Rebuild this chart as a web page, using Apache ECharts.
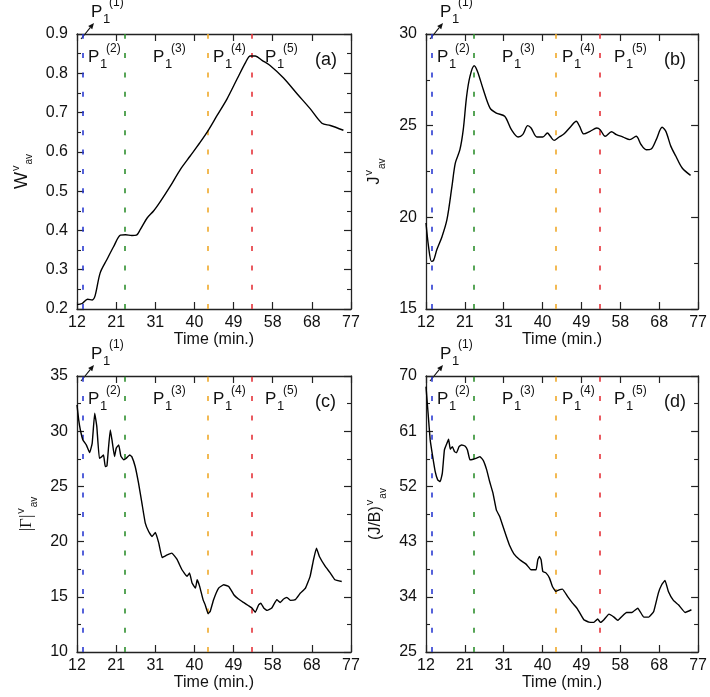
<!DOCTYPE html>
<html><head><meta charset="utf-8">
<script src="https://cdn.jsdelivr.net/npm/echarts@6/dist/echarts.min.js"></script>
<style>html,body{margin:0;padding:0;background:#fff}#c{width:710px;height:697px}</style>
</head><body><div id="c"></div>
<script>
// ---------- data ----------
const xTickLabels = [12, 21, 31, 40, 49, 58, 68, 77];
const phaseTimes = [13.4, 23.4, 43.1, 53.5];
const phaseSup = ['(2)', '(3)', '(4)', '(5)'];
const panelTags = ['(a)', '(b)', '(c)', '(d)'];

const aTime = [12, 13.2, 14.5, 15.6, 16.3, 17.5, 19.1, 20.7, 22.3, 23.5, 25.0, 26.1, 27.0, 28.6, 30.2, 31.8, 34.1, 36.5, 38.9, 41.2, 43.1, 45.2, 47.6, 50, 52, 53.1, 54.3, 55.9, 57.8, 61, 64.2, 67.3, 70.1, 72.1, 75.2];
const aVal  = [0.211, 0.214, 0.225, 0.223, 0.234, 0.292, 0.326, 0.359, 0.388, 0.389, 0.387, 0.388, 0.402, 0.431, 0.45, 0.474, 0.512, 0.555, 0.590, 0.624, 0.654, 0.692, 0.735, 0.786, 0.828, 0.844, 0.844, 0.833, 0.820, 0.788, 0.748, 0.710, 0.673, 0.667, 0.655];

const bTime = [12, 12.6, 13.3, 13.8, 14.6, 15.8, 17, 18.2, 19, 20.1, 20.9, 21.7, 22.5, 23.5, 24.3, 25.7, 27.3, 28.8, 30.8, 32.4, 34, 35.1, 36.3, 37.1, 38.5, 39.9, 41, 41.7, 42.6, 43.8, 45, 46.6, 47.9, 48.7, 49.7, 51.2, 52.8, 53.6, 54.8, 56.3, 57.5, 59.1, 60.7, 62.2, 63.4, 64.6, 65.8, 67, 68.4, 69.3, 70.5, 71.7, 73.2, 75.2];
const bVal  = [19.69, 18.42, 17.6, 17.65, 18.24, 18.93, 19.87, 21.69, 22.96, 23.69, 24.78, 26.6, 27.69, 28.27, 27.96, 26.96, 25.96, 25.69, 25.51, 24.78, 24.38, 24.51, 25.0, 24.87, 24.38, 24.38, 24.6, 24.42, 24.2, 24.38, 24.56, 24.96, 25.24, 24.96, 24.55, 24.69, 24.87, 24.78, 24.42, 24.67, 24.51, 24.38, 24.24, 24.42, 23.96, 23.69, 23.73, 24.24, 24.91, 24.69, 23.87, 23.33, 22.69, 22.29];

const cTime = [12, 12.4, 12.8, 13.4, 14.2, 15, 15.6, 16.2, 16.7, 17.3, 17.9, 18.3, 18.7, 19.1, 19.5, 19.9, 20.3, 20.9, 21.3, 21.9, 22.4, 23.1, 23.7, 24.5, 25.0, 25.8, 26.6, 27.4, 28.2, 29.0, 29.8, 30.6, 31.4, 32.2, 33.4, 34.5, 35.7, 36.9, 38.1, 38.7, 39.3, 40.1, 40.5, 41.1, 41.9, 42.4, 43.1, 43.6, 44.4, 45.6, 46.8, 48.0, 49.2, 50.3, 51.5, 52.7, 53.5, 54.3, 55.1, 55.6, 56.3, 57.1, 58.2, 59.4, 60.2, 61, 61.8, 62.6, 63.8, 65, 66.2, 67.3, 68.1, 68.8, 69.5, 70.9, 72.1, 73.2, 74.8];
const cVal  = [32.38, 31.02, 30.11, 29.21, 28.76, 28.06, 28.9, 31.62, 30.42, 27.55, 27.7, 27.85, 26.8, 26.86, 28.61, 30.11, 29.21, 27.7, 28.46, 28.76, 27.76, 27.4, 27.55, 27.85, 27.7, 26.8, 25.29, 23.48, 21.67, 20.92, 20.46, 20.83, 19.86, 18.56, 18.8, 18.96, 18.41, 17.45, 16.85, 17.15, 16.24, 15.79, 16.54, 15.94, 14.74, 14.28, 13.47, 13.68, 14.74, 15.79, 16.09, 15.94, 15.19, 14.8, 14.49, 14.19, 13.98, 13.59, 14.28, 14.43, 13.98, 13.77, 13.98, 14.74, 14.49, 14.8, 14.95, 14.68, 14.74, 15.34, 15.79, 16.85, 18.35, 19.41, 18.65, 17.75, 17.15, 16.54, 16.39];

const dTime = [12, 12.5, 13.0, 13.6, 14.2, 14.8, 15.4, 15.9, 16.4, 17.0, 17.4, 17.8, 18.3, 18.8, 19.3, 19.9, 20.5, 21.3, 21.9, 22.5, 23.3, 24.1, 24.9, 25.7, 26.5, 27.2, 28.0, 28.8, 29.6, 30.4, 31.2, 32.0, 33.0, 34.4, 35.9, 37.1, 38.3, 38.7, 39.1, 39.5, 39.9, 40.7, 41.5, 42.2, 43.0, 43.8, 44.6, 45.8, 47.0, 48.2, 49.7, 50.9, 52.1, 53.0, 53.7, 54.5, 55.7, 56.9, 57.8, 58.8, 59.9, 61.2, 62.6, 64.0, 65.2, 66.4, 67.5, 68.3, 69.1, 69.9, 71.1, 72.3, 73.9, 75.4];
const dVal  = [68.26, 63.92, 59.58, 56.86, 54.42, 53.06, 52.79, 54.15, 57.95, 59.03, 59.68, 58.06, 58.49, 57.68, 57.51, 58.49, 58.76, 58.6, 57.95, 56.32, 56.43, 56.6, 56.86, 56.21, 54.69, 52.79, 50.89, 48.18, 47.09, 45.46, 43.83, 42.31, 41.01, 40.03, 39.33, 38.4, 38.4, 40.03, 40.58, 40.03, 38.13, 37.86, 37.05, 35.69, 34.87, 35.14, 35.25, 34.06, 32.97, 32.0, 30.26, 29.88, 29.83, 30.37, 29.83, 30.26, 31.18, 30.69, 30.15, 30.8, 31.45, 31.45, 32.15, 30.69, 30.69, 31.61, 34.6, 35.96, 36.67, 34.87, 33.41, 32.7, 31.45, 31.89];

const yRanges = [[0.2, 0.9, 0.1], [15, 30, 5], [10, 35, 5], [25, 70, 9]];

// ---------- style / layout ----------
const FONT = "'Liberation Sans', Arial, Helvetica, sans-serif";
const phaseColors = ['#2b3bd1', '#2f8f2f', '#efa92a', '#e5333a'];
const grids = [
  {left: 77, top: 34, width: 274, height: 275},
  {left: 426, top: 34, width: 274, height: 275},
  {left: 77, top: 376, width: 274, height: 276},
  {left: 426, top: 376, width: 274, height: 276}
];
const yNames = [
  '{w|W}{sup|v}{sub|av}',
  '{m|J}{sup|v}{sub|av}',
  '{g||Γ|}{sup|v}{sub|av}',
  '{m|(J/B)}{sup|v}{sub|av}'
];
const yNameGaps = [43, 39, 38, 38];
const pOffsets = [11, 76, 136, 188];
const series = [[aTime, aVal], [bTime, bVal], [cTime, cVal], [dTime, dVal]];

const xMin = xTickLabels[0], xMax = xTickLabels[xTickLabels.length - 1];
const xInterval = (xMax - xMin) / (xTickLabels.length - 1);

const richName = {
  w: {fontSize: 18, fontFamily: FONT, color: '#111', lineHeight: 24},
  m: {fontSize: 16, fontFamily: FONT, color: '#111', lineHeight: 24},
  g: {fontSize: 17, fontFamily: "'Liberation Serif', 'Times New Roman', serif", color: '#111', lineHeight: 24},
  sup: {fontSize: 11, fontFamily: FONT, color: '#111', verticalAlign: 'top', lineHeight: 24, padding: [0, 0, 0, 1]},
  sub: {fontSize: 10, fontFamily: FONT, color: '#111', verticalAlign: 'bottom', lineHeight: 24, padding: [0, 0, 0, 1]}
};

const xAxes = [], yAxes = [], seriesList = [], graphics = [];
grids.forEach((g, i) => {
  const tickBase = {show: true, inside: true, length: 7, lineStyle: {color: '#222', width: 1.2}};
  const lineBase = {show: true, lineStyle: {color: '#222', width: 1.3}};
  xAxes.push({
    type: 'value', gridIndex: i, position: 'bottom', min: xMin, max: xMax, interval: xInterval,
    axisLine: lineBase, axisTick: tickBase, splitLine: {show: false},
    axisLabel: {show: true, margin: 6, fontSize: 16, fontFamily: FONT, color: '#111', formatter: v => String(Math.round(v))},
    name: 'Time (min.)', nameLocation: 'middle', nameGap: 21,
    nameTextStyle: {fontSize: 16, fontFamily: FONT, color: '#111'}
  });
  xAxes.push({
    type: 'value', gridIndex: i, position: 'top', min: xMin, max: xMax, interval: xInterval,
    axisLine: lineBase, axisTick: tickBase, splitLine: {show: false}, axisLabel: {show: false}
  });
  const [ymin, ymax, yint] = yRanges[i];
  const minor = {show: true, splitNumber: 2, length: 4, lineStyle: {color: '#222', width: 1.1}};
  yAxes.push({
    type: 'value', gridIndex: i, position: 'left', min: ymin, max: ymax, interval: yint,
    axisLine: lineBase, axisTick: tickBase, minorTick: minor, splitLine: {show: false}, minorSplitLine: {show: false},
    axisLabel: {show: true, margin: 9, fontSize: 16, fontFamily: FONT, color: '#111'},
    name: yNames[i], nameLocation: 'middle', nameRotate: 90, nameGap: yNameGaps[i],
    nameTextStyle: {rich: richName}
  });
  yAxes.push({
    type: 'value', gridIndex: i, position: 'right', min: ymin, max: ymax, interval: yint,
    axisLine: lineBase, axisTick: tickBase, minorTick: minor, splitLine: {show: false}, minorSplitLine: {show: false},
    axisLabel: {show: false}
  });
  const [tt, vv] = series[i];
  seriesList.push({
    type: 'line', xAxisIndex: 2 * i, yAxisIndex: 2 * i, showSymbol: false, symbol: 'none',
    smooth: i < 2 ? 0.3 : 0.1,
    lineStyle: {color: '#000', width: 1.4}, z: 5,
    data: tt.map((t, k) => [t, vv[k]]),
    markLine: {
      silent: true, symbol: 'none', label: {show: false}, z: 3,
      data: phaseTimes.map((t, k) => ({xAxis: t, lineStyle: {color: phaseColors[k], type: [5, 14.3], width: 1.6}}))
    }
  });

  const pLabel = (x, y, sup) => {
    graphics.push({type: 'text', x: x, y: y, style: {text: 'P', font: '17px ' + FONT, fill: '#111', verticalAlign: 'middle', align: 'left'}});
    graphics.push({type: 'text', x: x + 12, y: y + 7, style: {text: '1', font: '13px ' + FONT, fill: '#111', verticalAlign: 'middle', align: 'left'}});
    graphics.push({type: 'text', x: x + 18, y: y - 9, style: {text: sup, font: '12px ' + FONT, fill: '#111', verticalAlign: 'middle', align: 'left'}});
  };
  pOffsets.forEach((o, k) => pLabel(g.left + o, g.top + 23.5, phaseSup[k]));
  pLabel(g.left + 14, g.top - 22, '(1)');
  graphics.push({type: 'text', x: g.left + 238, y: g.top + 26, style: {text: panelTags[i], font: '18px ' + FONT, fill: '#111', verticalAlign: 'middle', align: 'left'}});

  const sx = g.left + 4, sy = g.top + 5, ex = g.left + 17, ey = g.top - 11;
  const dx = ex - sx, dy = ey - sy, L = Math.hypot(dx, dy);
  const ux = dx / L, uy = dy / L, nx = -uy, ny = ux;
  const hl = 6, hw = 2.6;
  const bx = ex - hl * ux, by = ey - hl * uy;
  graphics.push({type: 'line', shape: {x1: sx, y1: sy, x2: bx, y2: by}, style: {stroke: '#111', lineWidth: 1.1}});
  graphics.push({type: 'polygon', shape: {points: [[ex, ey], [bx + hw * nx, by + hw * ny], [bx - hw * nx, by - hw * ny]]}, style: {fill: '#111'}});
});

const chart = echarts.init(document.getElementById('c'), null, {renderer: 'canvas'});
chart.setOption({
  animation: false,
  backgroundColor: '#fff',
  grid: grids.map(g => Object.assign({containLabel: false}, g)),
  xAxis: xAxes,
  yAxis: yAxes,
  series: seriesList,
  graphic: graphics
});
</script>
</body></html>
